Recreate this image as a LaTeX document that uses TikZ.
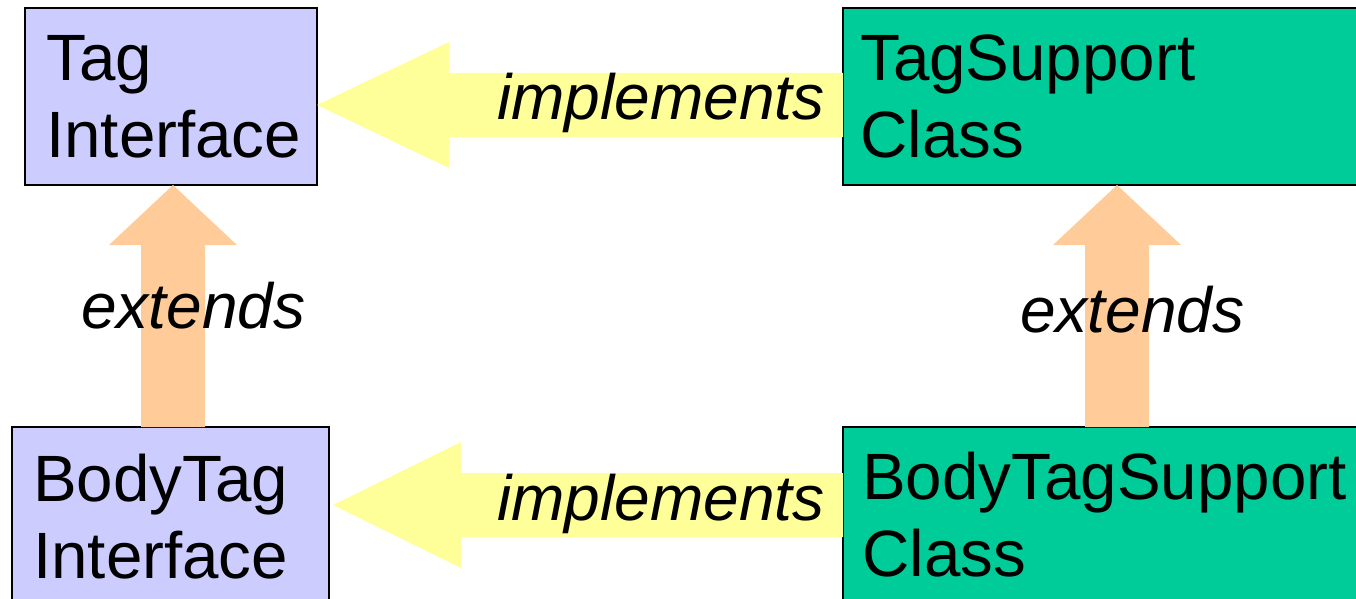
\documentclass[tikz,border=0pt]{standalone}
\usepackage{fontspec}
\setmainfont{Liberation Sans}
\definecolor{lavender}{HTML}{CCCCFF}
\definecolor{seagreen}{HTML}{00CC99}
\definecolor{paleyellow}{HTML}{FFFF99}
\definecolor{peach}{HTML}{FFCC99}
\tikzset{
  ifacebox/.style={draw=black, line width=2pt, fill=lavender, inner sep=0pt, outer sep=0pt, anchor=north west},
  classbox/.style={draw=black, line width=2pt, fill=seagreen, inner sep=0pt, outer sep=0pt, anchor=north west},
  boxtext/.style={inner sep=0pt, anchor=north west, align=left, font=\fontsize{65.5}{77}\selectfont},
  reltext/.style={inner sep=0pt, anchor=base west, font=\fontsize{64}{77}\selectfont\itshape},
  implarrow/.style={fill=paleyellow},
  extarrow/.style={fill=peach}
}
\begin{document}
\begin{tikzpicture}[x=1pt,y=-1pt]
\useasboundingbox (0,0) rectangle (1356,599);
% boxes
\node[ifacebox, minimum width=292pt, minimum height=177pt] (tag) at (25,8) {};
\node[classbox, minimum width=517pt, minimum height=177pt] (tagsup) at (843,8) {};
\node[ifacebox, minimum width=317pt, minimum height=178pt] (body) at (12,427) {};
\node[classbox, minimum width=517pt, minimum height=178pt] (bodysup) at (843,427) {};
% implements arrows
\fill[implarrow] (tag.east |- 0,105) -- ++(132,-63) -- ++(0,31) -- (tagsup.west |- 0,73)
  -- (tagsup.west |- 0,137) -- (449,137) -- ++(0,31) -- cycle;
\fill[implarrow] (333,505) -- ++(128,-63) -- ++(0,31) -- (bodysup.west |- 0,473)
  -- (bodysup.west |- 0,537) -- (461,537) -- ++(0,31) -- cycle;
% extends arrows
\fill[extarrow] (tag.south -| 173,0) -- ++(64,60) -- ++(-32,0) -- (body.north -| 205,0)
  -- (body.north -| 141,0) -- (141,245) -- ++(-32,0) -- cycle;
\fill[extarrow] (tagsup.south -| 1117,0) -- ++(64,60) -- ++(-32,0) -- (bodysup.north -| 1149,0)
  -- (bodysup.north -| 1085,0) -- (1085,245) -- ++(-32,0) -- cycle;
% texts
\node[boxtext] (tagtxt) at (46,35) {Tag\\Interface};
\node[boxtext] (tagsuptxt) at (860,35) {TagSupport\\Class};
\node[boxtext] (bodytxt) at (33,454) {BodyTag\\Interface};
\node[boxtext] (bodysuptxt) at (862,452) {BodyTagSupport\\Class};
\node[reltext] (impltop) at (497,120) {implements};
\node[reltext] (implbot) at (497,520) {implements};
\node[reltext] (extleft) at (81,328) {extends};
\node[reltext] (extright) at (1020,332) {extends};
\end{tikzpicture}
\end{document}
